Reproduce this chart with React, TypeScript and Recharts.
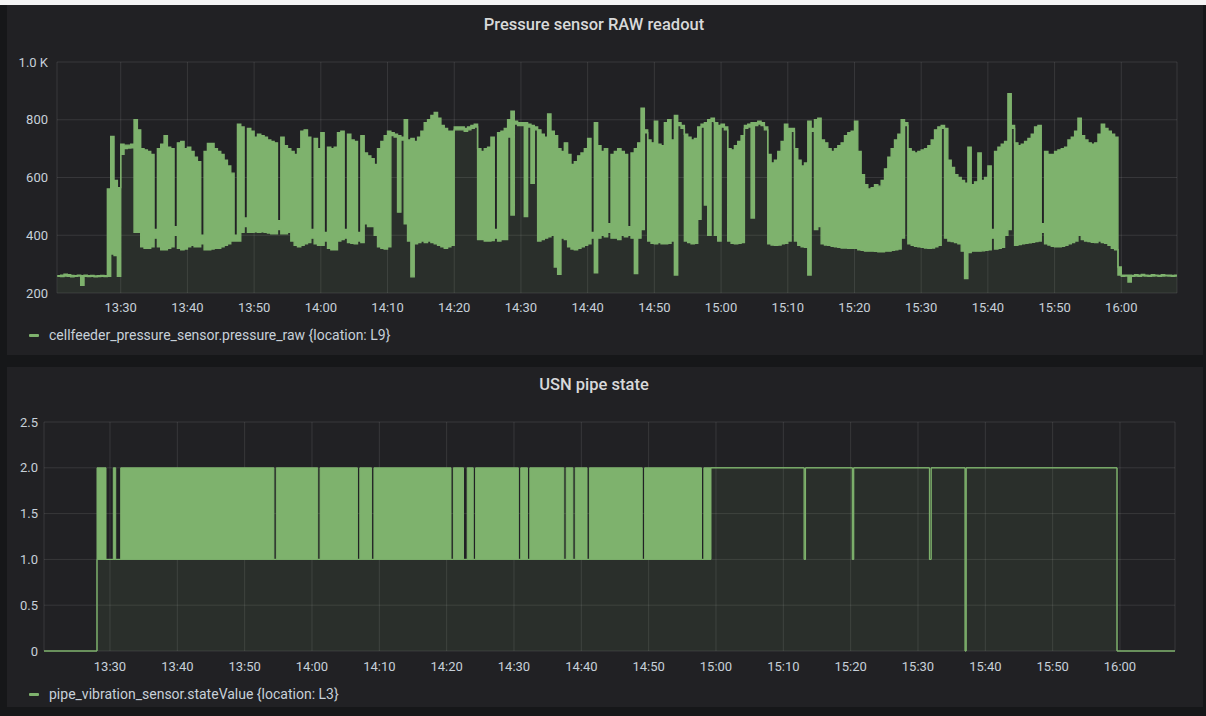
import { ComposedChart, Area, XAxis, YAxis, CartesianGrid } from "recharts";

const GREEN = "#7eb26d";
const PANEL_BG = "#212124";
const PAGE_BG = "#161719";
const GRID = "rgba(255,255,255,0.1)";
const TEXT = "#c7d0d9";
const TITLE = "#d8d9da";

// pressure_raw, min / max of every 30 s bucket; first bucket starts 13:20:30 (minute of day)
const pressureStart = 800.5;
const pressureStep = 0.5;

const pressureLow = [
  258, 257, 259, 258, 256, 258, 259, 227, 258, 257, 258, 256, 257, 258, 257, 258, 335, 330, 258, 680,
  700, 702, 703, 410, 410, 360, 355, 355, 360, 390, 360, 350, 350, 355, 360, 400, 355, 350, 352, 360,
  365, 360, 360, 370, 350, 350, 352, 355, 355, 360, 365, 370, 380, 380, 380, 410, 430, 410, 410, 412,
  410, 412, 410, 408, 405, 405, 420, 405, 405, 410, 380, 365, 360, 365, 370, 375, 390, 370, 365, 365,
  380, 355, 350, 350, 380, 385, 390, 375, 372, 370, 380, 375, 440, 430, 430, 400, 360, 355, 352, 360,
  745, 740, 480, 730, 440, 380, 256, 370, 375, 380, 375, 380, 375, 370, 365, 360, 355, 360, 365, 765,
  765, 765, 760, 765, 770, 775, 385, 385, 380, 380, 382, 390, 380, 385, 385, 740, 470, 785, 780, 780,
  465, 775, 580, 765, 380, 385, 390, 395, 400, 290, 265, 390, 385, 360, 352, 350, 355, 360, 365, 370,
  390, 270, 390, 400, 395, 410, 390, 390, 385, 400, 395, 400, 390, 267, 390, 420, 755, 380, 372, 370,
  375, 370, 370, 372, 380, 262, 780, 770, 380, 375, 370, 372, 455, 775, 505, 400, 795, 400, 380, 775,
  765, 380, 372, 370, 372, 375, 770, 775, 460, 780, 785, 780, 765, 370, 366, 365, 366, 370, 372, 380,
  760, 380, 365, 360, 358, 262, 760, 420, 430, 370, 366, 365, 362, 360, 358, 356, 356, 355, 355, 355,
  350, 348, 345, 345, 345, 344, 343, 343, 345, 345, 348, 350, 352, 390, 780, 370, 365, 362, 360, 358,
  356, 355, 356, 360, 365, 770, 390, 380, 378, 375, 370, 345, 250, 340, 345, 345, 345, 346, 348, 350,
  390, 352, 355, 358, 400, 420, 770, 365, 368, 370, 372, 374, 376, 378, 380, 410, 370, 366, 362, 360,
  360, 362, 365, 370, 375, 380, 400, 385, 380, 378, 376, 375, 380, 375, 372, 365, 355, 350, 262, 258,
  259, 238, 258, 259, 258, 260, 259, 258, 259, 260, 258, 259, 260, 259, 258, 259, 260,
];

const pressureHigh = [
  260, 262, 265, 263, 261, 260, 262, 260, 262, 260, 261, 259, 260, 261, 260, 560, 742, 590, 565, 715,
  712, 712, 715, 800, 765, 700, 695, 690, 680, 420, 700, 715, 745, 705, 700, 430, 720, 725, 700, 705,
  690, 670, 655, 400, 690, 718, 718, 700, 690, 680, 660, 640, 615, 400, 785, 775, 460, 770, 760, 740,
  750, 745, 740, 730, 725, 720, 450, 740, 710, 700, 690, 680, 700, 760, 765, 740, 420, 735, 700, 755,
  410, 705, 700, 705, 755, 760, 420, 750, 730, 725, 410, 745, 685, 675, 665, 645, 700, 725, 745, 760,
  755, 750, 745, 740, 800, 730, 735, 725, 740, 760, 790, 800, 815, 825, 805, 780, 770, 760, 760, 775,
  775, 775, 770, 775, 780, 785, 700, 690, 700, 705, 740, 420, 755, 760, 770, 800, 830, 795, 790, 790,
  790, 785, 780, 775, 765, 750, 740, 820, 760, 745, 700, 690, 720, 680, 645, 655, 675, 685, 700, 735,
  410, 790, 710, 690, 700, 440, 680, 690, 700, 690, 680, 430, 685, 700, 720, 840, 765, 730, 720, 795,
  715, 710, 790, 800, 730, 815, 790, 780, 750, 740, 730, 735, 775, 785, 790, 800, 805, 790, 780, 785,
  775, 700, 695, 710, 725, 745, 780, 785, 790, 790, 795, 790, 775, 680, 650, 660, 690, 725, 785, 770,
  770, 700, 660, 640, 650, 795, 770, 800, 805, 730, 720, 700, 690, 700, 710, 720, 745, 755, 760, 795,
  690, 610, 575, 560, 565, 575, 570, 590, 630, 670, 700, 730, 750, 800, 790, 700, 690, 685, 690, 695,
  700, 710, 730, 765, 775, 780, 770, 660, 635, 610, 600, 590, 580, 705, 575, 585, 685, 590, 600, 640,
  420, 690, 705, 715, 725, 890, 780, 720, 710, 715, 725, 735, 750, 775, 780, 440, 690, 680, 680, 690,
  695, 700, 705, 730, 740, 760, 805, 745, 730, 720, 715, 720, 750, 785, 770, 760, 750, 740, 290, 262,
  262, 262, 261, 263, 262, 264, 262, 261, 263, 262, 261, 263, 262, 262, 261, 262, 262,
];

const pressureTicks = [200, 400, 600, 800, 1000];

// stateValue change points (minute of day) with the min / max held until the next point
const stateTime = [
  800.2, 808.07, 809.41, 810.49, 810.85, 811.59, 834.35, 834.7, 840.85, 841.2,
  846.75, 847.1, 848.85, 849.2, 860.65, 861.0, 862.5, 863.05, 863.95, 864.3,
  870.65, 871.0, 872.0, 872.35, 877.4, 877.75, 878.75, 879.1, 880.85, 881.2,
  889.05, 889.4, 897.85, 898.2, 899.26, 913.1, 913.3, 920.25, 920.45, 931.7,
  931.95, 937.0, 937.15, 959.56, 968.3,
];
const stateLow = [
  0, 1, 1, 1, 1, 1, 1, 1, 1, 1,
  1, 1, 1, 1, 1, 1, 1, 1, 1, 1,
  1, 1, 1, 1, 1, 1, 1, 1, 1, 1,
  1, 1, 1, 1, 2, 1, 2, 1, 2, 1,
  2, 0, 2, 0, 0,
];
const stateHigh = [
  0, 2, 1, 2, 1, 2, 1, 2, 1, 2,
  1, 2, 1, 2, 1, 2, 1, 2, 1, 2,
  1, 2, 1, 2, 1, 2, 1, 2, 1, 2,
  1, 2, 1, 2, 2, 1, 2, 1, 2, 1,
  2, 0, 2, 0, 0,
];
const stateTicks = [0, 0.5, 1, 1.5, 2, 2.5];

const timeTicks = [810, 820, 830, 840, 850, 860, 870, 880, 890, 900, 910, 920, 930, 940, 950, 960];

const pressureData = pressureLow.map((low, i) => ({
  t: pressureStart + i * pressureStep,
  low,
  high: pressureHigh[i],
}));

const stateData = stateTime.map((t, i) => ({ t, low: stateLow[i], high: stateHigh[i] }));

const clock = (m: number) => `${Math.floor(m / 60)}:${String(Math.round(m % 60)).padStart(2, "0")}`;
const band = (d: { low: number; high: number }) => [d.low, d.high];

const tickStyle = { fill: TEXT, fontSize: 13, fontFamily: "Roboto, sans-serif" };

function PanelTitle({ text, top }: { text: string; top: number }) {
  return (
    <div
      style={{
        position: "absolute",
        left: 0,
        top,
        width: 1188,
        textAlign: "center",
        color: TITLE,
        fontSize: 16.5,
        fontWeight: 500,
        lineHeight: "18px",
      }}
    >
      {text}
    </div>
  );
}

function LegendRow({ text, top }: { text: string; top: number }) {
  return (
    <div style={{ position: "absolute", left: 29, top, display: "flex", alignItems: "center", height: 16 }}>
      <span style={{ width: 10, height: 3, background: GREEN, borderRadius: 1, marginRight: 10 }} />
      <span style={{ color: TEXT, fontSize: 14, lineHeight: "16px" }}>{text}</span>
    </div>
  );
}

export default function App() {
  return (
    <div
      style={{
        position: "absolute",
        left: 0,
        top: 0,
        width: 1206,
        height: 716,
        background: PAGE_BG,
        fontFamily: "Roboto, sans-serif",
        overflow: "hidden",
      }}
    >
      <div style={{ position: "absolute", left: 0, top: 0, width: 1206, height: 5, background: "#f4f4f4" }} />
      <div style={{ position: "absolute", left: 7, top: 5, width: 1196, height: 350, background: PANEL_BG }} />
      <div style={{ position: "absolute", left: 7, top: 367, width: 1196, height: 340, background: PANEL_BG }} />

      <PanelTitle text="Pressure sensor RAW readout" top={16} />
      <div style={{ position: "absolute", left: 0, top: 0 }}>
        <ComposedChart width={1206} height={330} data={pressureData} margin={{ top: 62, right: 29, bottom: 0, left: 0 }}>
          <CartesianGrid stroke={GRID} />
          <XAxis
            type="number"
            dataKey="t"
            domain={[800.45, 968.35]}
            ticks={timeTicks}
            tickFormatter={clock}
            allowDataOverflow
            axisLine={false}
            tickLine={false}
            tickSize={0}
            tickMargin={10}
            height={37}
            tick={tickStyle}
          />
          <YAxis
            domain={[200, 1000]}
            ticks={pressureTicks}
            tickFormatter={(v: number) => (v >= 1000 ? "1.0 K" : String(v))}
            axisLine={false}
            tickLine={false}
            tickSize={0}
            tickMargin={9}
            width={57}
            tick={tickStyle}
          />
          <Area
            type="stepAfter"
            dataKey="high"
            stroke="none"
            fill={GREEN}
            fillOpacity={0.1}
            isAnimationActive={false}
          />
          <Area
            type="stepAfter"
            dataKey={band}
            stroke={GREEN}
            strokeWidth={1.4}
            fill={GREEN}
            fillOpacity={1}
            isAnimationActive={false}
          />
        </ComposedChart>
      </div>
      <LegendRow text="cellfeeder_pressure_sensor.pressure_raw {location: L9}" top={327} />

      <PanelTitle text="USN pipe state" top={376} />
      <div style={{ position: "absolute", left: 0, top: 360 }}>
        <ComposedChart width={1206} height={330} data={stateData} margin={{ top: 62, right: 31, bottom: 0, left: 0 }}>
          <CartesianGrid stroke={GRID} />
          <XAxis
            type="number"
            dataKey="t"
            domain={[800.2, 968.17]}
            ticks={timeTicks}
            tickFormatter={clock}
            allowDataOverflow
            axisLine={false}
            tickLine={false}
            tickSize={0}
            tickMargin={11}
            height={39}
            tick={tickStyle}
          />
          <YAxis
            domain={[0, 2.5]}
            ticks={stateTicks}
            tickFormatter={(v: number) => (v === 0 ? "0" : v.toFixed(1))}
            axisLine={false}
            tickLine={false}
            tickSize={0}
            tickMargin={6}
            width={44}
            tick={tickStyle}
          />
          <Area
            type="stepAfter"
            dataKey="high"
            stroke="none"
            fill={GREEN}
            fillOpacity={0.1}
            isAnimationActive={false}
          />
          <Area
            type="stepAfter"
            dataKey={band}
            stroke={GREEN}
            strokeWidth={1}
            fill={GREEN}
            fillOpacity={1}
            isAnimationActive={false}
          />
        </ComposedChart>
      </div>
      <LegendRow text="pipe_vibration_sensor.stateValue {location: L3}" top={686} />
    </div>
  );
}
